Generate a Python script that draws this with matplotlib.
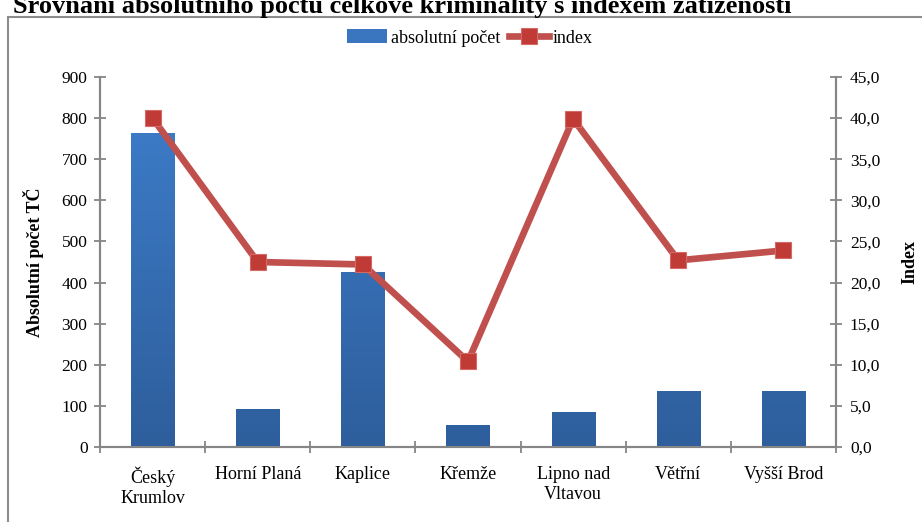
import matplotlib
matplotlib.use("Agg")
import matplotlib.pyplot as plt
import numpy as np
from matplotlib.patches import Rectangle, Patch
from matplotlib.lines import Line2D
from matplotlib.colors import LinearSegmentedColormap

categories = ["Český\nKrumlov", "Horní Planá", "Kaplice", "Křemže", "Lipno nad\nVltavou", "Větřní", "Vyšší Brod"]
absolutni_pocet = [764, 92, 425, 53, 84, 136, 136]
index_vals = [40.0, 22.5, 22.2, 10.4, 39.9, 22.7, 23.9]
left_ticks = [0, 100, 200, 300, 400, 500, 600, 700, 800, 900]
right_ticks = [0, 5, 10, 15, 20, 25, 30, 35, 40, 45]

plt.rcParams['font.family'] = ['Liberation Serif', 'DejaVu Serif']
W, H = 922, 522
fig = plt.figure(figsize=(W / 100, H / 100), dpi=100)

def fx(px):
    return px / W

def fy(py):
    return 1 - py / H

ax = fig.add_axes([fx(100), fy(447), fx(836) - fx(100), fy(77) - fy(447)])
ax2 = ax.twinx()

gray = "#868686"
x = np.arange(len(categories))
bw = 0.41
bars = ax.bar(x, absolutni_pocet, width=bw, color="#3A75BF", zorder=2)
cmap = LinearSegmentedColormap.from_list("g", ["#2E5E9C", "#3E7FCD"])
grad = np.linspace(0, 1, 256).reshape(-1, 1)
for b in bars:
    bx = b.get_x()
    im = ax.imshow(grad, cmap=cmap, origin="lower", aspect="auto",
                   extent=[bx, bx + b.get_width(), 0, 900], zorder=3)
    im.set_clip_path(b)
ax.set_xlim(-0.5, len(categories) - 0.5)
ax.set_ylim(0, 900)
ax2.set_ylim(0, 45)

line_color = "#C0504D"
ax2.plot(x, index_vals, color=line_color, lw=4.8, zorder=4,
         marker="s", markersize=12, markerfacecolor="#C03A36",
         markeredgecolor="#D46A66", markeredgewidth=0.8)

ax.set_yticks(left_ticks)
ax.set_yticklabels([str(t) for t in left_ticks])
ax2.set_yticks(right_ticks)
ax2.set_yticklabels([f"{t:.1f}".replace(".", ",") for t in right_ticks])
ax.set_xticks(x)
ax.set_xticklabels(categories)
ax.set_xticks(np.arange(-0.5, len(categories)), minor=True)
ax.tick_params(axis="x", which="major", length=0, pad=14, labelsize=13)
ax.tick_params(axis="x", which="minor", length=8, direction="inout", color=gray, width=1.3)
ax.tick_params(axis="y", length=8, direction="inout", color=gray, width=1.3, labelsize=12.5, pad=5)
ax2.tick_params(axis="y", length=8, direction="inout", color=gray, width=1.3, labelsize=12.5, pad=6)

for a in (ax, ax2):
    a.spines["top"].set_visible(False)
    for s in ("left", "right", "bottom"):
        a.spines[s].set_color(gray)
        a.spines[s].set_linewidth(1.5)
    a.set_facecolor("none")
ax2.set_zorder(ax.zorder + 1)

fig.text(fx(33), fy(262), "Absolutní počet TČ", fontsize=13, fontweight="bold",
         rotation=90, ha="center", va="center")
fig.text(fx(910), fy(262), "Index", fontsize=13, fontweight="bold",
         rotation=90, ha="center", va="center")

# chart border
border = Rectangle((fx(8), fy(530)), fx(930) - fx(8), fy(17) - fy(530),
                   transform=fig.transFigure, fill=False, edgecolor="#8C8C8C", lw=1.5)
fig.add_artist(border)

fig.text(fx(13), fy(13), "Srovnání absolutního počtu celkové kriminality s indexem zatíženosti",
         fontsize=19, fontweight="bold", ha="left", va="baseline")

handles = [Patch(facecolor="#3A75BF", edgecolor="none"),
           Line2D([0], [0], color=line_color, lw=4.8, marker="s", markersize=11,
                  markerfacecolor="#C03A36", markeredgecolor="#D46A66", markeredgewidth=0.8)]
fig.legend(handles, ["absolutní počet", "index"], loc="center",
           bbox_to_anchor=(fx(470), fy(38)), ncol=2, frameon=False, fontsize=13,
           handlelength=2.2, handleheight=0.8, handletextpad=0.2, columnspacing=0.5)

fig.savefig("out.png", dpi=100)
